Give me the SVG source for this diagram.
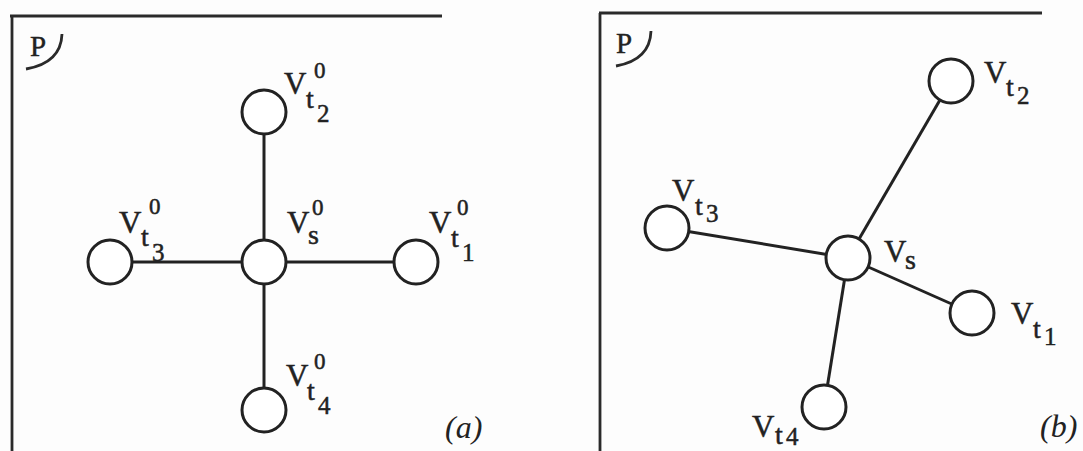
<svg xmlns="http://www.w3.org/2000/svg" width="1083" height="451" viewBox="0 0 1083 451">
<style>
.frame{stroke:#2a2a2a;stroke-width:2.8;fill:none}
.edge{stroke:#222;stroke-width:3;fill:none}
.node{stroke:#222;stroke-width:3;fill:#fff}
.lbl{font-family:"Liberation Serif",serif;fill:#222;stroke:#222;stroke-width:0.5}
.v{font-size:31px}
.t{font-size:28px}
.d{font-size:25px}
.sup{font-size:23px}
.cap{font-family:"Liberation Serif",serif;font-style:italic;font-size:32px;fill:#222}
.p{font-family:"Liberation Serif",serif;font-size:29px;fill:#222;stroke:#222;stroke-width:0.4}
</style>
<rect width="1083" height="451" fill="#fdfdfd"/>
<g id="panel-a-frame">
<path class="frame" d="M10,16 H442 M12,16 V451"/>
<text class="p" x="30" y="56">P</text>
<path class="frame" d="M62,34 Q61,63 26,69"/>
</g>
<g id="panel-b-frame">
<path class="frame" d="M599,13 H1042 M600,13 V451"/>
<text class="p" x="616" y="53">P</text>
<path class="frame" d="M651,31 Q650,60 616,66"/>
</g>
<g id="connectors">
<line class="edge" x1="264" y1="262" x2="264" y2="112"/>
<line class="edge" x1="264" y1="262" x2="416" y2="262"/>
<line class="edge" x1="264" y1="262" x2="110" y2="262"/>
<line class="edge" x1="264" y1="262" x2="264" y2="410"/>
<line class="edge" x1="848" y1="258" x2="951" y2="81"/>
<line class="edge" x1="848" y1="258" x2="667" y2="228"/>
<line class="edge" x1="848" y1="258" x2="972" y2="313"/>
<line class="edge" x1="848" y1="258" x2="824" y2="407"/>
</g>
<g id="a-vs"><circle class="node" cx="264" cy="262" r="22"/>
<text class="lbl"><tspan class="v" x="287" y="233">V</tspan><tspan class="t" x="308" y="244">s</tspan><tspan class="sup" x="312" y="215">0</tspan></text></g>
<g id="a-vt2"><circle class="node" cx="264" cy="112" r="22"/>
<text class="lbl"><tspan class="v" x="284" y="94">V</tspan><tspan class="t" x="306" y="108">t</tspan><tspan class="d" x="317" y="122">2</tspan><tspan class="sup" x="314" y="78">0</tspan></text></g>
<g id="a-vt1"><circle class="node" cx="416" cy="262" r="22"/>
<text class="lbl"><tspan class="v" x="429" y="233">V</tspan><tspan class="t" x="451" y="247">t</tspan><tspan class="d" x="462" y="261">1</tspan><tspan class="sup" x="457" y="215">0</tspan></text></g>
<g id="a-vt3"><circle class="node" cx="110" cy="262" r="22"/>
<text class="lbl"><tspan class="v" x="119" y="233">V</tspan><tspan class="t" x="141" y="246">t</tspan><tspan class="d" x="152" y="261">3</tspan><tspan class="sup" x="149" y="214">0</tspan></text></g>
<g id="a-vt4"><circle class="node" cx="264" cy="410" r="22"/>
<text class="lbl"><tspan class="v" x="286" y="386">V</tspan><tspan class="t" x="307" y="400">t</tspan><tspan class="d" x="318" y="414">4</tspan><tspan class="sup" x="314" y="369">0</tspan></text></g>
<text class="cap" x="445" y="438">(a)</text>
<g id="b-vs"><circle class="node" cx="848" cy="258" r="22"/>
<text class="lbl"><tspan class="v" x="884" y="262">V</tspan><tspan class="t" x="905" y="269">s</tspan></text></g>
<g id="b-vt2"><circle class="node" cx="951" cy="81" r="22"/>
<text class="lbl"><tspan class="v" x="984" y="83">V</tspan><tspan class="t" x="1006" y="96">t</tspan><tspan class="d" x="1017" y="104">2</tspan></text></g>
<g id="b-vt3"><circle class="node" cx="667" cy="228" r="22"/>
<text class="lbl"><tspan class="v" x="672" y="201">V</tspan><tspan class="t" x="695" y="215">t</tspan><tspan class="d" x="706" y="222">3</tspan></text></g>
<g id="b-vt1"><circle class="node" cx="972" cy="313" r="22"/>
<text class="lbl"><tspan class="v" x="1011" y="324">V</tspan><tspan class="t" x="1033" y="338">t</tspan><tspan class="d" x="1044" y="345">1</tspan></text></g>
<g id="b-vt4"><circle class="node" cx="824" cy="407" r="22"/>
<text class="lbl"><tspan class="v" x="752" y="437">V</tspan><tspan class="t" x="775" y="444">t</tspan><tspan class="d" x="786" y="445">4</tspan></text></g>
<text class="cap" x="1040" y="437">(b)</text>
</svg>
